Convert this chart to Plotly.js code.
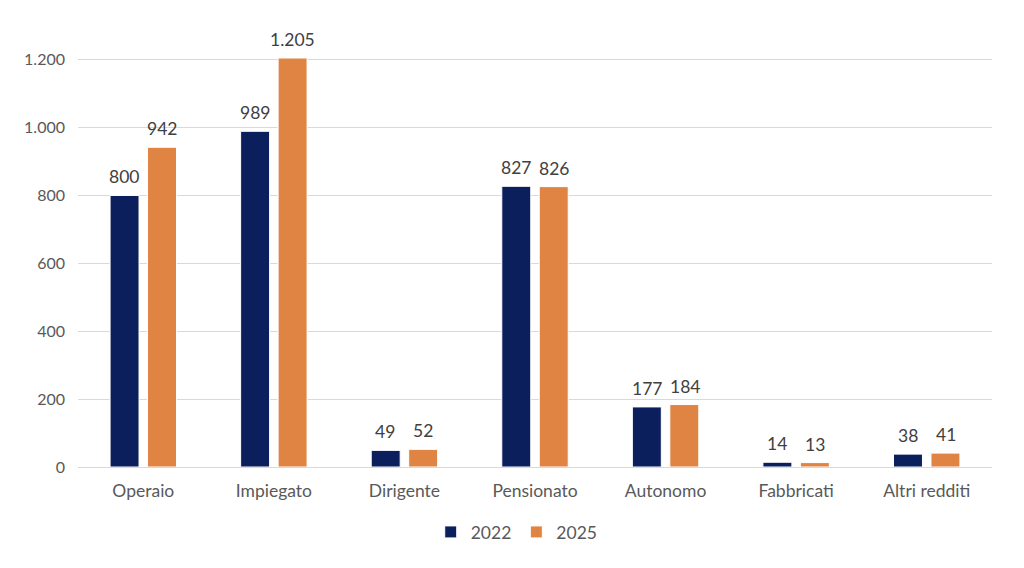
<!DOCTYPE html>
<html><head><meta charset="utf-8">
<script src="https://cdn.plot.ly/plotly-3.0.1.min.js"></script>
<style>html,body{margin:0;padding:0;background:#fff}#c{width:1024px;height:568px}</style>
</head><body><div id="c"></div>
<script>
const categories = ["Operaio","Impiegato","Dirigente","Pensionato","Autonomo","Fabbricati","Altri redditi"];
const values2022 = [800, 989, 49, 827, 177, 14, 38];
const values2025 = [942, 1205, 52, 826, 184, 13, 41];
const tickVals = [0, 200, 400, 600, 800, 1000, 1200];

const FONT = "Lato, 'Open Sans', sans-serif";
const fmt = v => v.toLocaleString("it-IT");
const traces = [
  {type:"bar", name:"2022", x:categories, y:values2022, marker:{color:"#0A1F5C", line:{color:"#fff", width:1}}, cliponaxis:false},
  {type:"bar", name:"2025", x:categories, y:values2025, marker:{color:"#E08443", line:{color:"#fff", width:1}}, cliponaxis:false}
];
const annotations = [];
[[values2022,-19],[values2025,19]].forEach(([vals, dx]) => {
  vals.forEach((v,i) => annotations.push({
    x:categories[i], y:v, xref:"x", yref:"y", text:fmt(v), showarrow:false,
    xshift:dx, yanchor:"bottom", yshift:6, font:{family:FONT, size:17.5, color:"#404040"}
  }));
});
const layout = {
  width:1024, height:568,
  margin:{l:78, r:32, t:58, b:101},
  paper_bgcolor:"#fff", plot_bgcolor:"#fff",
  separators:",.",
  barmode:"group", bargap:0.426, bargroupgap:0.227,
  font:{family:FONT, color:"#595959"},
  xaxis:{tickfont:{size:17.5, color:"#595959"}, showline:true, linecolor:"#D9D9D9", linewidth:1, ticks:"", ticklabelstandoff:8, fixedrange:true},
  yaxis:{range:[0,1205], tickvals:tickVals, tickformat:",d", tickfont:{size:16, color:"#595959"},
         showgrid:true, gridcolor:"#D9D9D9", gridwidth:1, zeroline:false, ticks:"", ticklabelstandoff:12},
  legend:{orientation:"h", x:0.48, xanchor:"center", y:-0.115, yanchor:"top", font:{size:17.5, color:"#595959"}, itemwidth:30, tracegroupgap:0},
  annotations:annotations,
  showlegend:true
};
Plotly.newPlot("c", traces, layout, {displayModeBar:false, staticPlot:true});
</script></body></html>
